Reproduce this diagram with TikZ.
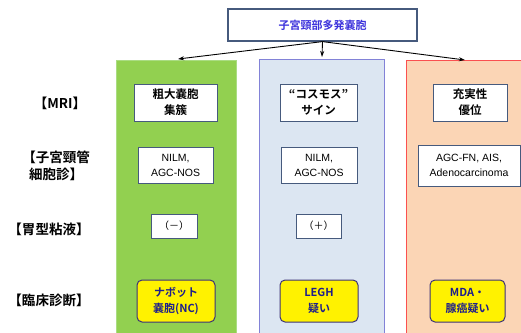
\documentclass[tikz,border=0pt]{standalone}
\usepackage{fontspec}
\setmainfont{Noto Sans CJK JP}[BoldFont={Noto Sans CJK JP Bold}]
\newfontfamily\latin{Liberation Sans}
\usetikzlibrary{arrows.meta}
\definecolor{colgreen}{RGB}{146,208,80}
\definecolor{colgreenb}{RGB}{170,220,130}
\definecolor{colblue}{RGB}{220,230,242}
\definecolor{colblueb}{RGB}{130,130,215}
\definecolor{colorange}{RGB}{251,213,181}
\definecolor{colorangeb}{RGB}{250,80,80}
\definecolor{boxb}{RGB}{70,90,125}
\definecolor{topblue}{RGB}{60,50,220}
\definecolor{navy}{RGB}{30,30,140}
\definecolor{yelb}{RGB}{60,50,120}
\tikzset{
  wbox/.style={draw=boxb, line width=1pt, fill=white, align=center, inner sep=1pt, font=\fontsize{11.5}{16}\selectfont\bfseries},
  cbox/.style={draw=boxb, line width=1pt, fill=white, align=center, inner sep=1pt, font=\fontsize{10.5}{15}\selectfont\latin},
  ybox/.style={draw=yelb, line width=1pt, fill=yellow, rounded corners=5pt, align=center, inner sep=1pt, text=navy, font=\fontsize{11}{16}\selectfont\bfseries},
  lab/.style={align=center, font=\fontsize{13.5}{17}\selectfont\bfseries},
  arr/.style={-{Stealth[length=6pt,width=4pt]}, line width=0.9pt, black}
}
\begin{document}
\begin{tikzpicture}[x=1pt,y=-1pt]
\useasboundingbox (0,0) rectangle (521,332);
% columns
\fill[colgreen] (116,60) rectangle (236,340);
\draw[colgreenb, line width=0.8pt] (116,340) -- (116,60) -- (236,60) -- (236,340);
\fill[colblue] (259,59) rectangle (384,340);
\draw[colblueb, line width=0.8pt] (259,340) -- (259,59) -- (384,59) -- (384,340);
\fill[colorange] (406,60) rectangle (530,340);
\draw[colorangeb, line width=0.8pt] (406,340) -- (406,60) -- (530,60);
% top
\node[draw=boxb, line width=1.2pt, fill=white, minimum width=189pt, minimum height=32pt, text=topblue, font=\fontsize{11}{13}\selectfont\bfseries] (top) at (322.5,25) {子宮頸部多発嚢胞};
\coordinate (a1) at (178,59);
\coordinate (a2) at (322,57);
\coordinate (a3) at (465,60);
\draw[arr] (top.south) -- (a1);
\draw[arr] (top.south) -- (a2);
\draw[arr] (top.south) -- (a3);
% left labels
\node[lab] (l1) at (60,103) {【MRI】};
\node[lab] (l2) at (56,166) {【子宮頸管\\細胞診】};
\node[lab] (l3) at (49,229) {【胃型粘液】};
\node[lab] (l4) at (49,300) {【臨床診断】};
% MRI
\node[wbox, minimum width=83pt, minimum height=37pt] (m1) at (175.5,102.5) {粗大嚢胞\\集簇};
\node[wbox, minimum width=77pt, minimum height=37pt] (m2) at (318.5,102.5) {“コスモス”\\サイン};
\node[wbox, minimum width=74pt, minimum height=37pt] (m3) at (470,102.5) {充実性\\優位};
% cytology
\node[cbox, minimum width=75pt, minimum height=36pt] (c1) at (175.5,165) {NILM,\\AGC-NOS};
\node[cbox, minimum width=76pt, minimum height=36pt] (c2) at (319,165) {NILM,\\AGC-NOS};
\node[cbox, minimum width=102pt, minimum height=41pt] (c3) at (469,165.5) {AGC-FN, AIS,\\Adenocarcinoma};
% mucus
\node[cbox, minimum width=46pt, minimum height=24pt, font=\fontsize{10}{12}\selectfont] (g1) at (174,226) {（－）};
\node[cbox, minimum width=45pt, minimum height=24pt, font=\fontsize{10}{12}\selectfont] (g2) at (318.5,226) {（＋）};
% clinical
\node[ybox, minimum width=78pt, minimum height=42pt] (d1) at (176,301) {ナボット\\嚢胞(NC)};
\node[ybox, minimum width=78pt, minimum height=42pt] (d2) at (319,301) {LEGH\\疑い};
\node[ybox, minimum width=75pt, minimum height=42pt] (d3) at (467.5,301) {MDA・\\腺癌疑い};
\end{tikzpicture}
\end{document}
